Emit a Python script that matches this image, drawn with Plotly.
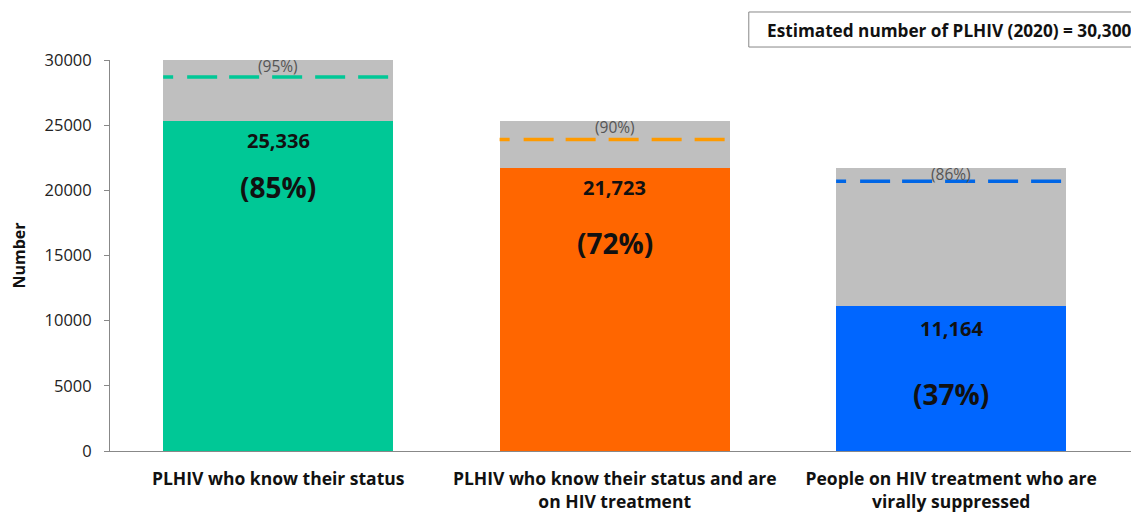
import plotly.graph_objects as go

categories = ["PLHIV who know their status",
              "PLHIV who know their status and are<br>on HIV treatment",
              "People on HIV treatment who are<br>virally suppressed"]
achieved = [25336, 21723, 11164]
achieved_labels = ["25,336", "21,723", "11,164"]
achieved_pct = ["(85%)", "(72%)", "(37%)"]
base_totals = [30300, 25336, 21723]
target_values = [28700, 23900, 20700]
target_pct = ["(95%)", "(90%)", "(86%)"]
bar_colors = ["#00C896", "#FF6600", "#0066FF"]
dash_colors = ["#00C896", "#FF9A00", "#0066E6"]
tick_vals = [0, 5000, 10000, 15000, 20000, 25000, 30000]
tick_text = ["0", "5000", "10000", "15000", "20000", "25000", "30000"]
box_text = "Estimated number of PLHIV (2020) = 30,300"

x = list(range(len(categories)))
bw = 0.684
font = "Open Sans"

fig = go.Figure()
fig.add_trace(go.Bar(x=x, y=achieved, width=bw, marker=dict(color=bar_colors, line=dict(width=0)),
                     showlegend=False, hoverinfo="skip"))
fig.add_trace(go.Bar(x=x, y=[t - a for t, a in zip(base_totals, achieved)], width=bw,
                     marker=dict(color="#BFBFBF", line=dict(width=0)),
                     showlegend=False, hoverinfo="skip"))
for i in x:
    fig.add_trace(go.Scatter(x=[i - bw / 2, i + bw / 2], y=[target_values[i]] * 2, mode="lines",
                             line=dict(color=dash_colors[i], width=3.5, dash="10px,14px,30px,12px,30px,13px,30px,13px,30px,13px,30px"),
                             showlegend=False, hoverinfo="skip"))

num_offsets = [-1550, -1520, -1800]
pct_offsets = [-5100, -5800, -6800]
for i in x:
    fig.add_annotation(x=i, y=achieved[i] + num_offsets[i], text="<b>" + achieved_labels[i] + "</b>",
                       showarrow=False, font=dict(family=font, size=20, color="#111"))
    fig.add_annotation(x=i, y=achieved[i] + pct_offsets[i], text="<b>" + achieved_pct[i] + "</b>",
                       showarrow=False, font=dict(family=font, size=28, color="#111"))
    fig.add_annotation(x=i, y=base_totals[i] if base_totals[i] < 30000 else 30000, yshift=-6,
                       text=target_pct[i],
                       showarrow=False, font=dict(family=font, size=15.5, color="#555"))

fig.add_shape(type="rect", xref="paper", yref="paper", x0=0.616, x1=0.991, y0=1.0332, y1=1.1228,
              line=dict(color="#888", width=1), fillcolor="white")
fig.add_annotation(xref="paper", yref="paper", x=0.8095, y=1.0767, xanchor="center", yanchor="middle",
                   text="<b>" + box_text + "</b>",
                   showarrow=False, font=dict(family=font, size=17.2, color="#111"))

fig.update_layout(
    width=1139, height=513, margin=dict(l=102, r=0, t=52, b=70, autoexpand=False),
    plot_bgcolor="white", paper_bgcolor="white", barmode="stack", bargap=0.316,
    font=dict(family=font, color="#111"),
)
fig.update_xaxes(range=[-0.5, 2.582], tickmode="array", tickvals=x,
                 ticktext=["<b>" + c + "</b>" for c in categories], automargin=False,
                 tickfont=dict(size=17.5, family=font, color="#111"), showline=True, linecolor="#888",
                 linewidth=1, ticks="", ticklabelstandoff=12, showgrid=False, zeroline=False)
fig.update_yaxes(range=[0, 30000], tickmode="array", tickvals=tick_vals, ticktext=tick_text,
                 tickfont=dict(size=16.5, family=font, color="#222"), automargin=False,
                 showline=True, linecolor="#888", linewidth=1, ticks="outside", ticklen=5,
                 ticklabelstandoff=9,
                 tickcolor="#888", showgrid=False, zeroline=False,
                 title=dict(text="<b>Number</b>", font=dict(size=16, family=font, color="#111"), standoff=16))

fig.write_html("out.html")
